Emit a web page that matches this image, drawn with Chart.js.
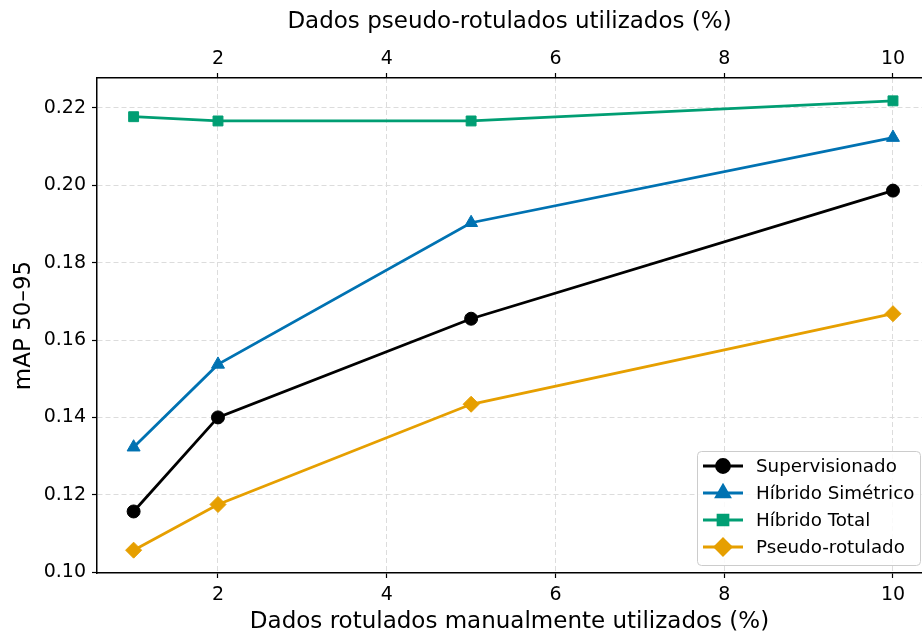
<!DOCTYPE html>
<html>
<head>
<meta charset="utf-8">
<script src="https://cdn.jsdelivr.net/npm/chart.js@4/dist/chart.umd.min.js"></script>
<style>
  html, body { margin: 0; padding: 0; background: #fff; }
  #box { width: 922px; height: 635px; }
</style>
</head>
<body>
<div id="box"><canvas id="grafico"></canvas></div>
<script>
// dados
var porcentagens = [1, 2, 5, 10];
var supervisionado = [0.1157, 0.1400, 0.1655, 0.1986];
var hibridoSimetrico = [0.1323, 0.1537, 0.1903, 0.2123];
var hibridoTotal = [0.2177, 0.2166, 0.2166, 0.2218];
var pseudoRotulado = [0.1057, 0.1175, 0.1434, 0.1668];
var ticksX = [2, 4, 6, 8, 10];
var ticksY = [0.10, 0.12, 0.14, 0.16, 0.18, 0.20, 0.22];

var fonte = 'DejaVu Sans';

function pontos(valores) {
    return porcentagens.map(function (x, i) { return { x: x, y: valores[i] }; });
}

function serie(label, cor, valores, estilo, raio) {
    return {
        label: label,
        data: pontos(valores),
        borderColor: cor,
        backgroundColor: cor,
        borderWidth: 2.8,
        pointStyle: estilo,
        pointRadius: raio,
        pointHoverRadius: raio,
        pointBorderWidth: 1,
        pointBorderColor: cor,
        tension: 0
    };
}

var Datos = {
    datasets: [
        serie('Supervisionado', '#000000', supervisionado, 'circle', 6.5),
        serie('Híbrido Simétrico', '#0072B2', hibridoSimetrico, 'triangle', 7.5),
        serie('Híbrido Total', '#009E73', hibridoTotal, 'rect', 7),
        serie('Pseudo-rotulado', '#E69F00', pseudoRotulado, 'rectRot', 8)
    ]
};

// legenda dentro da área do gráfico (canto inferior direito)
var legendaInterna = {
    id: 'legendaInterna',
    afterDatasetsDraw: function (chart) {
        var ctx = chart.ctx;
        var area = chart.chartArea;
        var w = 223, h = 114;
        var x0 = area.right - w - 2, y0 = area.bottom - h - 8;
        ctx.save();
        ctx.fillStyle = 'rgba(255,255,255,0.85)';
        ctx.strokeStyle = '#cccccc';
        ctx.lineWidth = 1;
        ctx.beginPath();
        ctx.roundRect(x0 + 0.5, y0 + 0.5, w, h, 4);
        ctx.fill();
        ctx.stroke();
        ctx.font = '18.3px ' + fonte;
        ctx.textBaseline = 'middle';
        chart.data.datasets.forEach(function (ds, i) {
            var y = y0 + 15 + i * 27;
            ctx.strokeStyle = ds.borderColor;
            ctx.lineWidth = 2.8;
            ctx.beginPath();
            ctx.moveTo(x0 + 6, y);
            ctx.lineTo(x0 + 46, y);
            ctx.stroke();
            ctx.fillStyle = ds.backgroundColor;
            Chart.helpers.drawPoint(ctx, {
                pointStyle: ds.pointStyle,
                radius: ds.pointRadius,
                borderWidth: 1
            }, x0 + 26, y);
            ctx.fillStyle = '#000';
            ctx.fillText(ds.label, x0 + 59, y + 1);
        });
        ctx.restore();
    }
};

function fixarTicks(lista) {
    return function (scale) {
        scale.ticks = lista.map(function (v) { return { value: v }; });
    };
}

function ajustar(prop, valor) {
    return function (s) {
        s[prop] = valor;
        s.paddingLeft = 0; s.paddingRight = 0; s.paddingTop = 0; s.paddingBottom = 0;
    };
}

var grade = {
    color: '#dcdcdc',
    lineWidth: 1,
    tickColor: '#000',
    tickLength: 5,
    tickWidth: 1.2,
    tickBorderDash: []
};
var borda = { color: '#000', width: 1.5, dash: [5, 3] };

var contexto = document.getElementById('grafico').getContext('2d');
var myChart = new Chart(contexto, {
    type: 'line',
    data: Datos,
    plugins: [legendaInterna],
    options: {
        responsive: true,
        maintainAspectRatio: false,
        animation: false,
        layout: { padding: 0, autoPadding: false },
        plugins: {
            legend: { display: false },
            tooltip: { enabled: false }
        },
        scales: {
            x: {
                type: 'linear',
                position: 'bottom',
                min: 0.566,
                max: 10.344,
                afterBuildTicks: fixarTicks(ticksX),
                afterFit: ajustar('height', 62),
                grid: grade,
                border: borda,
                ticks: { color: '#000', font: { family: fonte, size: 19 }, padding: 6 },
                title: {
                    display: true,
                    text: 'Dados rotulados manualmente utilizados (%)',
                    color: '#000',
                    font: { family: fonte, size: 23 },
                    padding: { top: 0, bottom: -1 }
                }
            },
            xTop: {
                type: 'linear',
                position: 'top',
                min: 0.566,
                max: 10.344,
                afterBuildTicks: fixarTicks(ticksX),
                afterFit: ajustar('height', 78),
                grid: { drawOnChartArea: false, tickColor: '#000', tickLength: 5, tickWidth: 1.2 },
                border: { color: '#000', width: 1.5 },
                ticks: { color: '#000', font: { family: fonte, size: 19 }, padding: 3 },
                title: {
                    display: true,
                    text: 'Dados pseudo-rotulados utilizados (%)',
                    color: '#000',
                    font: { family: fonte, size: 23 },
                    padding: { top: 8, bottom: 4 }
                }
            },
            y: {
                type: 'linear',
                min: 0.0998,
                max: 0.2277,
                afterBuildTicks: fixarTicks(ticksY),
                afterFit: ajustar('width', 97),
                grid: grade,
                border: borda,
                ticks: {
                    color: '#000',
                    font: { family: fonte, size: 19 },
                    padding: 6,
                    callback: function (v) { return v.toFixed(2); }
                },
                title: {
                    display: true,
                    text: 'mAP 50–95',
                    color: '#000',
                    font: { family: fonte, size: 23 },
                    padding: { top: 10, bottom: 4 }
                }
            }
        }
    }
});
</script>
</body>
</html>
